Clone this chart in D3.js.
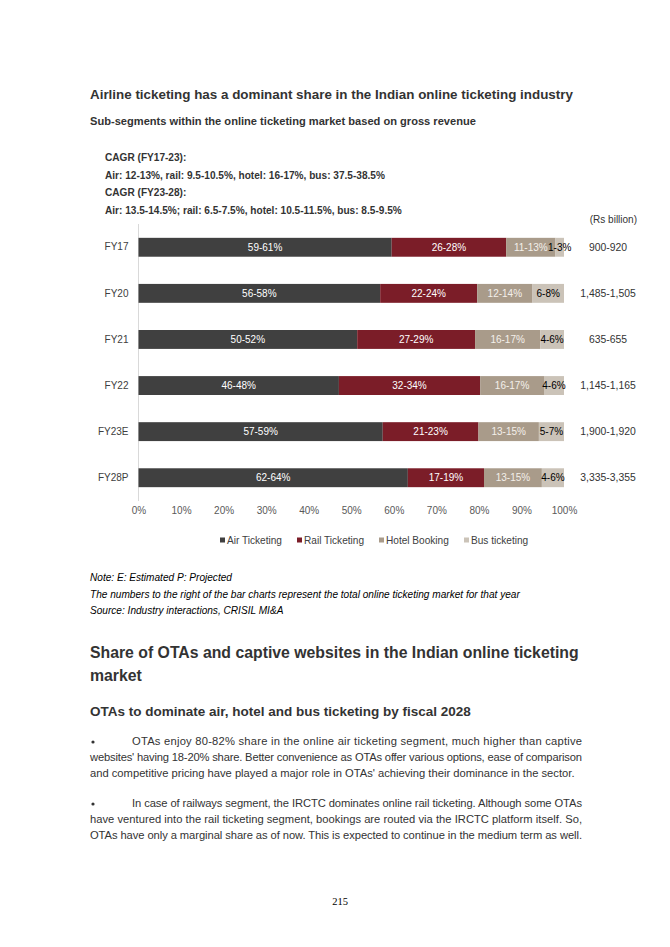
<!DOCTYPE html>
<html>
<head>
<meta charset="utf-8">
<script src="https://cdn.jsdelivr.net/npm/d3@7"></script>
<style>
  body { margin: 0; background: #fff; }
  svg text { font-family: "Liberation Sans", Arial, sans-serif; }
</style>
</head>
<body>
<div id="chart-area"></div>
<script>
// chart data
let years = ["FY17", "FY20", "FY21", "FY22", "FY23E", "FY28P"];
let air   = [59.5, 56.8, 51.4, 47.1, 57.4, 63.3];
let rail  = [26.9, 22.8, 27.7, 33.2, 22.5, 17.9];
let hotel = [11.6, 13.0, 15.3, 15.0, 14.2, 13.6];
let bus   = [2.0, 7.4, 5.6, 4.7, 5.9, 5.2];
let airLbl   = ["59-61%", "56-58%", "50-52%", "46-48%", "57-59%", "62-64%"];
let railLbl  = ["26-28%", "22-24%", "27-29%", "32-34%", "21-23%", "17-19%"];
let hotelLbl = ["11-13%", "12-14%", "16-17%", "16-17%", "13-15%", "13-15%"];
let busLbl   = ["1-3%", "6-8%", "4-6%", "4-6%", "5-7%", "4-6%"];
let totals = ["900-920", "1,485-1,505", "635-655", "1,145-1,165", "1,900-1,920", "3,335-3,355"];
let seriesNames = ["Air Ticketing", "Rail Ticketing", "Hotel Booking", "Bus ticketing"];
let xTicks = [0, 0.1, 0.2, 0.3, 0.4, 0.5, 0.6, 0.7, 0.8, 0.9, 1];

let colors = ["#404040", "#7b1d28", "#a99b8a", "#cbc3b8"];
let labelColors = ["#ffffff", "#ffffff", "#f4f0ea", "#000000"];
let keys = ["air", "rail", "hotel", "bus"];
let lbls = {air: airLbl, rail: railLbl, hotel: hotelLbl, bus: busLbl};

let rows = years.map((y, i) => ({year: y, air: air[i], rail: rail[i], hotel: hotel[i], bus: bus[i], i: i}));

let W = 670, H = 947;
let svg = d3.select("#chart-area")
    .append("svg")
        .attr("width", W)
        .attr("height", H);

let txt = "#333333";

// headings
svg.append("text").attr("x", 90).attr("y", 99)
    .attr("font-size", "13.4px").attr("font-weight", "bold").attr("fill", txt)
    .text("Airline ticketing has a dominant share in the Indian online ticketing industry");

svg.append("text").attr("x", 90).attr("y", 125)
    .attr("font-size", "11.1px").attr("font-weight", "bold").attr("fill", txt)
    .text("Sub-segments within the online ticketing market based on gross revenue");

let cagr = ["CAGR (FY17-23):",
    "Air: 12-13%, rail: 9.5-10.5%, hotel: 16-17%, bus: 37.5-38.5%",
    "CAGR (FY23-28):",
    "Air: 13.5-14.5%; rail: 6.5-7.5%, hotel: 10.5-11.5%, bus: 8.5-9.5%"];
svg.selectAll(".cagr").data(cagr).enter()
    .append("text")
        .attr("class", "cagr")
        .attr("x", 105)
        .attr("y", (d, i) => 161 + i * 17.5)
        .attr("font-size", "10.1px").attr("font-weight", "bold").attr("fill", txt)
        .text(d => d);

// scales
let x = d3.scaleLinear().domain([0, 1]).range([138.5, 564]);
let y = d3.scaleBand().domain(years).range([224, 501])
    .paddingInner(0.59).paddingOuter(0.3);

let stack = d3.stack().keys(keys).offset(d3.stackOffsetExpand);
let series = stack(rows);

// y axis line
svg.append("line")
    .attr("x1", x(0)).attr("x2", x(0))
    .attr("y1", 224).attr("y2", 501)
    .attr("stroke", "#d9d9d9").attr("stroke-width", 1);

let layers = svg.selectAll(".layer").data(series).enter()
    .append("g")
        .attr("class", "layer")
        .attr("fill", (d, i) => colors[i]);

layers.selectAll("rect").data(d => d).enter()
    .append("rect")
        .attr("x", d => x(d[0]))
        .attr("y", d => y(d.data.year))
        .attr("width", d => x(d[1]) - x(d[0]))
        .attr("height", y.bandwidth());

series.forEach((s, si) => {
    svg.selectAll(".lbl-" + s.key).data(s).enter()
        .append("text")
            .attr("x", d => x((d[0] + d[1]) / 2))
            .attr("y", d => y(d.data.year) + y.bandwidth() / 2 + 3.6)
            .attr("text-anchor", "middle")
            .attr("font-size", "10px")
            .attr("fill", labelColors[si])
            .text(d => lbls[s.key][d.data.i]);
});

// category labels
let yAxis = d3.axisLeft(y).tickSize(0).tickPadding(10);
let yG = svg.append("g").attr("transform", "translate(" + x(0) + ",0)").call(yAxis);
yG.select(".domain").remove();
yG.selectAll("text").attr("font-size", "10px").attr("fill", "#404040")
    .attr("font-family", "Liberation Sans, Arial, sans-serif");

// x axis tick labels
let xAxis = d3.axisBottom(x).tickValues(xTicks).tickFormat(d3.format(".0%")).tickSize(0).tickPadding(0);
let xG = svg.append("g").attr("transform", "translate(0,507)").call(xAxis);
xG.select(".domain").remove();
xG.selectAll("text").attr("font-size", "10px").attr("fill", "#595959")
    .attr("font-family", "Liberation Sans, Arial, sans-serif");

// totals on the right
svg.append("text").attr("x", 637).attr("y", 223)
    .attr("text-anchor", "end").attr("font-size", "10px").attr("fill", txt)
    .text("(Rs billion)");
svg.selectAll(".total").data(totals).enter()
    .append("text")
        .attr("class", "total")
        .attr("x", 608)
        .attr("y", (d, i) => y(years[i]) + y.bandwidth() / 2 + 3.4)
        .attr("text-anchor", "middle")
        .attr("font-size", "10.4px").attr("fill", txt)
        .text(d => d);

// legend
let legendX = [220, 297, 379, 464];
let leg = svg.selectAll(".leg").data(seriesNames).enter()
    .append("g")
        .attr("class", "leg")
        .attr("transform", (d, i) => "translate(" + legendX[i] + ",540)");
leg.append("rect").attr("x", 0).attr("y", -2.5).attr("width", 5).attr("height", 5)
    .attr("fill", (d, i) => colors[i]);
leg.append("text").attr("x", 7).attr("y", 3.6)
    .attr("font-size", "10.1px").attr("fill", "#404040")
    .text(d => d);

// notes
let notes = ["Note: E: Estimated P: Projected",
    "The numbers to the right of the bar charts represent the total online ticketing market for that year",
    "Source: Industry interactions, CRISIL MI&A"];
svg.selectAll(".note").data(notes).enter()
    .append("text")
        .attr("x", 90)
        .attr("y", (d, i) => 581 + i * 16.5)
        .attr("font-size", "10.1px").attr("font-style", "italic").attr("fill", "#000")
        .text(d => d);

// section headings
svg.append("text").attr("x", 90).attr("y", 658)
    .attr("font-size", "15.8px").attr("font-weight", "bold").attr("fill", txt)
    .text("Share of OTAs and captive websites in the Indian online ticketing");
svg.append("text").attr("x", 90).attr("y", 681)
    .attr("font-size", "15.8px").attr("font-weight", "bold").attr("fill", txt)
    .text("market");
svg.append("text").attr("x", 90).attr("y", 716)
    .attr("font-size", "13.5px").attr("font-weight", "bold").attr("fill", txt)
    .text("OTAs to dominate air, hotel and bus ticketing by fiscal 2028");

// body text, justified lines
let body = [
    {t: "OTAs enjoy 80-82% share in the online air ticketing segment, much higher than captive", y: 745, x: 132, j: true, b: true},
    {t: "websites' having 18-20% share. Better convenience as OTAs offer various options, ease of comparison", y: 761, x: 90, j: true},
    {t: "and competitive pricing have played a major role in OTAs' achieving their dominance in the sector.", y: 777, x: 90, j: false},
    {t: "In case of railways segment, the IRCTC dominates online rail ticketing. Although some OTAs", y: 807, x: 132, j: true, b: true},
    {t: "have ventured into the rail ticketing segment, bookings are routed via the IRCTC platform itself. So,", y: 823, x: 90, j: true},
    {t: "OTAs have only a marginal share as of now. This is expected to continue in the medium term as well.", y: 839, x: 90, j: true}
];
let rightEdge = 582;
body.forEach(l => {
    let t = svg.append("text").attr("x", l.x).attr("y", l.y)
        .attr("font-size", "11.2px").attr("fill", txt)
        .text(l.t);
    if (l.j) t.attr("textLength", rightEdge - l.x).attr("lengthAdjust", "spacing");
    if (l.b) svg.append("circle").attr("cx", 93).attr("cy", l.y - 3).attr("r", 1.6).attr("fill", txt);
});

// page number
svg.append("text").attr("x", 340).attr("y", 905)
    .attr("text-anchor", "middle")
    .style("font-family", "Liberation Serif, serif")
    .attr("font-size", "10.5px").attr("fill", "#000")
    .text("215");
</script>
</body>
</html>
